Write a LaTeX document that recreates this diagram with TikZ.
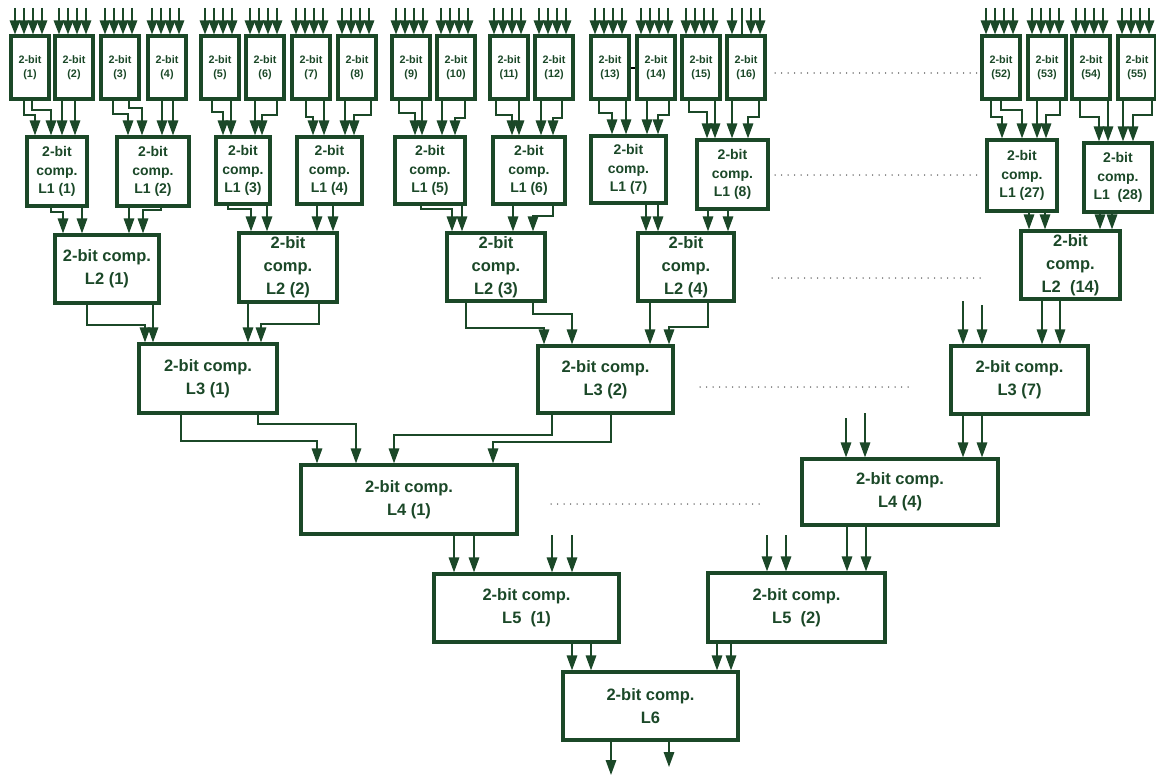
\documentclass[tikz,border=0pt]{standalone}
\usepackage{fontspec}
\setmainfont{Liberation Sans}
\usetikzlibrary{arrows.meta}
\definecolor{dg}{RGB}{27,72,40}
\definecolor{dotgray}{RGB}{80,80,80}
% block from its corner coordinates: name, x1, y1, x2, y2, style, text
\newcommand\blk[7]{%
  \pgfmathsetmacro\blkw{#4-#2}%
  \pgfmathsetmacro\blkh{#5-#3}%
  \node[#6, minimum width=\blkw pt, minimum height=\blkh pt] (#1) at ({(#2+#4)/2},{(#3+#5)/2}) {#7};}
% routed link: source, x at source, y of the bend, target, x at target
\newcommand\jog[5]{\draw[wire] (#2,0 |- #1.south) -- (#2,#3) -- (#5,#3) -- (#5,0 |- #4.north);}
% straight link: source, x, target
\newcommand\drop[3]{\draw[wire] (#2,0 |- #1.south) -- (#2,0 |- #3.north);}
% four primary inputs on a first-stage block: name, left edge
\newcommand\fourin[2]{\foreach \d in {4,13,22,31}{%
  \coordinate (#1i\d) at ({#2+\d},8);
  \draw[inwire] (#1i\d) -- (#1i\d |- #1.north);}}
\begin{document}
\begin{tikzpicture}[x=1pt,y=-1pt,
  box/.style={draw=dg, line width=3.2pt, text=dg, inner sep=0pt, align=center},
  bit/.style={box, font=\fontsize{10.8}{13.5}\selectfont\bfseries},
  lone/.style={box, font=\fontsize{14}{18.5}\selectfont\bfseries},
  comp/.style={box, font=\fontsize{16.5}{23}\selectfont\bfseries},
  wire/.style={draw=dg, line width=1.6pt, -{Triangle[length=15pt,width=10.5pt]}},
  inwire/.style={draw=dg, line width=1.6pt, -{Triangle[length=14pt,width=10.5pt]}},
  bare/.style={draw=dg, line width=1.6pt},
  dots/.style={draw=dotgray, line width=1.5pt, line cap=round, dash pattern=on 0pt off 6.5pt}]
\useasboundingbox (0,0) rectangle (1156,776);

% ---- first stage: 2-bit blocks
\foreach \n/\l in {1/11,2/55,3/101,4/148,5/201,6/246,7/292,8/338,9/392,10/437,
                   11/490,12/535,13/591,14/637,15/682,16/727,52/982,53/1028,54/1072,55/1118}{
  \blk{t\n}{\l}{36}{\l+38}{99}{bit}{2-bit\\(\n)}}
\foreach \n/\l in {1/11,2/55,3/101,4/148,5/201,6/246,7/292,8/338,9/392,10/437,
                   11/490,12/535,13/591,14/637,15/682,52/982,53/1028,54/1072,55/1118}{
  \fourin{t\n}{\l}}
% block 16: second input drawn without a head
\foreach \d in {5,24,33}{%
  \coordinate (t16i\d) at ({727+\d},8);
  \draw[inwire] (t16i\d) -- (t16i\d |- t16.north);}
\coordinate (t16i15) at (742,8);
\draw[bare] (t16i15) -- (t16i15 |- t16.north);
\draw[black, line width=2pt] (t13.east |- 0,68) -- (t14.west |- 0,68);

% ---- level 1
\blk{a1}{27}{137}{87}{206}{lone}{2-bit\\comp.\\L1 (1)}
\blk{a2}{117}{137}{189}{206}{lone}{2-bit\\comp.\\L1 (2)}
\blk{a3}{216}{137}{270}{204}{lone}{2-bit\\comp.\\L1 (3)}
\blk{a4}{297}{137}{362}{204}{lone}{2-bit\\comp.\\L1 (4)}
\blk{a5}{395}{137}{465}{204}{lone}{2-bit\\comp.\\L1 (5)}
\blk{a6}{493}{137}{565}{204}{lone}{2-bit\\comp.\\L1 (6)}
\blk{a7}{591}{136}{666}{203}{lone}{2-bit\\comp.\\L1 (7)}
\blk{a8}{697}{140}{768}{209}{lone}{2-bit\\comp.\\L1 (8)}
\blk{a27}{987}{140}{1057}{211}{lone}{2-bit\\comp.\\L1 (27)}
\blk{a28}{1084}{143}{1152}{212}{lone}{2-bit\\comp.\\L1\ \ (28)}

\jog{t1}{24}{115}{a1}{35}   \jog{t1}{32}{110}{a1}{51}
\drop{t2}{62}{a1}           \drop{t2}{75}{a1}
\jog{t3}{113}{114}{a2}{128} \jog{t3}{129}{108}{a2}{142}
\drop{t4}{162}{a2}          \drop{t4}{173}{a2}
\jog{t5}{212}{112}{a3}{223} \drop{t5}{231}{a3}
\drop{t6}{255}{a3}          \jog{t6}{277}{115}{a3}{262}
\jog{t7}{306}{117}{a4}{313} \drop{t7}{324}{a4}
\drop{t8}{345}{a4}          \jog{t8}{371}{115}{a4}{354}
\jog{t9}{399}{113}{a5}{415} \drop{t9}{422}{a5}
\drop{t10}{442}{a5}         \jog{t10}{465}{118}{a5}{455}
\jog{t11}{496}{115}{a6}{512} \drop{t11}{519}{a6}
\drop{t12}{541}{a6}         \jog{t12}{562}{118}{a6}{553}
\jog{t13}{599}{113}{a7}{612} \drop{t13}{626}{a7}
\drop{t14}{647}{a7}         \jog{t14}{669}{115}{a7}{658}
\jog{t15}{689}{112}{a8}{707} \drop{t15}{715}{a8}
\drop{t16}{732}{a8}         \jog{t16}{759}{117}{a8}{748}
\jog{t52}{991}{117}{a27}{1002} \jog{t52}{1001}{110}{a27}{1022}
\drop{t53}{1037}{a27}       \jog{t53}{1060}{115}{a27}{1046}
\jog{t54}{1080}{117}{a28}{1099} \drop{t54}{1108}{a28}
\drop{t55}{1123}{a28}       \jog{t55}{1152}{115}{a28}{1133}

% ---- level 2
\blk{b1}{55}{235}{159}{303}{comp}{2-bit comp.\\L2 (1)}
\blk{b2}{239}{233}{337}{302}{comp}{2-bit\\comp.\\L2 (2)}
\blk{b3}{447}{233}{545}{301}{comp}{2-bit\\comp.\\L2 (3)}
\blk{b4}{638}{233}{734}{301}{comp}{2-bit\\comp.\\L2 (4)}
\blk{b14}{1021}{231}{1120}{299}{comp}{2-bit\\comp.\\L2\ \ (14)}

\jog{a1}{51}{212}{b1}{63}   \drop{a1}{82}{b1}
\drop{a2}{129}{b1}          \jog{a2}{161}{210}{b1}{143}
\jog{a3}{228}{209}{b2}{251} \drop{a3}{267}{b2}
\drop{a4}{317}{b2}          \drop{a4}{333}{b2}
\jog{a5}{421}{209}{b3}{452} \drop{a5}{462}{b3}
\drop{a6}{513}{b3}          \jog{a6}{553}{216}{b3}{533}
\drop{a7}{646}{b4}          \drop{a7}{658}{b4}
\drop{a8}{708}{b4}          \drop{a8}{728}{b4}
\drop{a27}{1029}{b14}       \drop{a27}{1045}{b14}
\drop{a28}{1100}{b14}       \drop{a28}{1112}{b14}

% ---- level 3
\blk{c1}{139}{344}{277}{413}{comp}{2-bit comp.\\L3 (1)}
\blk{c2}{538}{346}{673}{413}{comp}{2-bit comp.\\L3 (2)}
\blk{c7}{951}{346}{1088}{414}{comp}{2-bit comp.\\L3 (7)}

\jog{b1}{87}{325}{c1}{145}  \drop{b1}{153}{c1}
\drop{b2}{248}{c1}          \jog{b2}{319}{324}{c1}{261}
\jog{b3}{466}{328}{c2}{544} \jog{b3}{533}{314}{c2}{572}
\drop{b4}{650}{c2}          \jog{b4}{708}{327}{c2}{669}
\drop{b14}{1042}{c7}        \drop{b14}{1060}{c7}
\coordinate (c7in1) at (963,301);
\coordinate (c7in2) at (982,305);
\draw[wire] (c7in1) -- (c7in1 |- c7.north);
\draw[wire] (c7in2) -- (c7in2 |- c7.north);

% ---- level 4
\blk{d1}{301}{465}{517}{534}{comp}{2-bit comp.\\L4 (1)}
\blk{d4}{802}{459}{998}{525}{comp}{2-bit comp.\\L4 (4)}

\jog{c1}{181}{441}{d1}{317} \jog{c1}{258}{424}{d1}{356}
\jog{c2}{552}{435}{d1}{394} \jog{c2}{611}{442}{d1}{493}
\drop{c7}{963}{d4}          \drop{c7}{982}{d4}
\coordinate (d4in1) at (846,418);
\coordinate (d4in2) at (865,413);
\draw[wire] (d4in1) -- (d4in1 |- d4.north);
\draw[wire] (d4in2) -- (d4in2 |- d4.north);

% ---- level 5
\blk{e1}{434}{574}{619}{642}{comp}{2-bit comp.\\L5\ \ (1)}
\blk{e2}{708}{573}{885}{642}{comp}{2-bit comp.\\L5\ \ (2)}

\drop{d1}{454}{e1}          \drop{d1}{474}{e1}
\drop{d4}{847}{e2}          \drop{d4}{866}{e2}
\foreach \x in {552,572}{\coordinate (e1in\x) at (\x,535);
  \draw[wire] (e1in\x) -- (e1in\x |- e1.north);}
\foreach \x in {767,786}{\coordinate (e2in\x) at (\x,535);
  \draw[wire] (e2in\x) -- (e2in\x |- e2.north);}

% ---- level 6
\blk{f}{563}{672}{738}{740}{comp}{2-bit comp.\\L6}
\drop{e1}{572}{f}           \drop{e1}{591}{f}
\drop{e2}{717}{f}           \drop{e2}{731}{f}
\coordinate (out1) at (611,775);
\coordinate (out2) at (669,767);
\draw[wire] (out1 |- f.south) -- (out1);
\draw[wire] (out2 |- f.south) -- (out2);

% ---- elided blocks
\draw[dots] (775,73) -- (978,73);
\draw[dots] (775,175) -- (980,175);
\draw[dots] (772,278) -- (983,278);
\draw[dots] (700,387) -- (912,387);
\draw[dots] (551,504) -- (762,504);
\end{tikzpicture}
\end{document}
